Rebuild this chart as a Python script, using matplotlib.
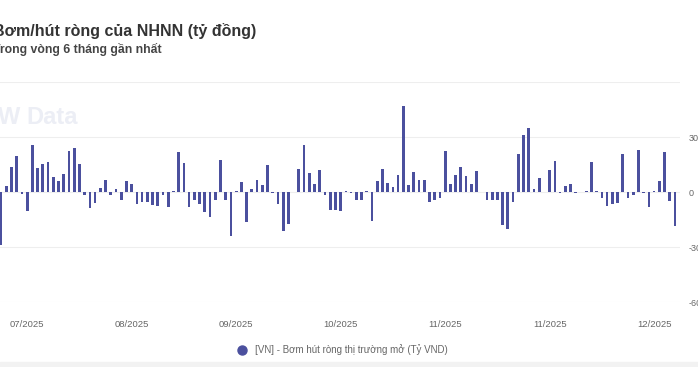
import matplotlib
matplotlib.use('Agg')
import matplotlib.pyplot as plt
from matplotlib.lines import Line2D
from matplotlib.patches import Rectangle

# Bơm/hút ròng theo phiên (tỷ đồng)
values = [-28700, 3100, 13500, 19800, -900, -10500, 25500, 13000, 15200, 16600,
          8300, 5900, 9800, 22600, 24000, 15200, -1500, -8700, -6100, 2200,
          6800, -1900, 1500, -4300, 5900, 4600, -6500, -5500, -5500, -7000,
          -7800, -1900, -8000, 300, 21600, 15700, -8000, -4300, -6800, -11100,
          -13500, -4300, 17600, -4300, -24000, 300, 5500, -16600, 1500, 6800,
          3700, 14800, -500, -6500, -21300, -17200, 0, 12400, 25500, 10500,
          4300, 12000, -1900, -9800, -9800, -10500, 500, -500, -4300, -4300,
          300, -15700, 6100, 12400, 5000, 2800, 9200, 46800, 3700, 11100,
          6800, 6800, -5500, -4300, -3100, 22200, 4300, 9200, 13500, 8700,
          4300, 11700, 0, -4600, -4600, -4600, -18100, -20000, -5200, 20900,
          31100, 34800, 1500, 7400, 0, 12000, 17000, -500, 3300, 4600,
          -500, 0, 300, 16300, 300, -3300, -7400, -6500, -6100, 20700,
          -3100, -1900, 22800, -300, -8300, 300, 6100, 21600, -5000, -18500]

tick_labels = ['07/2025', '08/2025', '09/2025', '10/2025', '11/2025', '11/2025', '12/2025']
y_ticks = [-60000, -30000, 0, 30000, 60000]
y_labels = ['-60,000', '-30,000', '0', '30,000', '']

title = 'Bơm/hút ròng của NHNN (tỷ đồng)'
subtitle = 'Trong vòng 6 tháng gần nhất'
legend_label = '[VN] - Bơm hút ròng thị trường mở (Tỷ VND)'

bar_color = '#4b509e'

plt.rcParams['font.family'] = ['Liberation Sans', 'DejaVu Sans']

W, H = 698, 367
fig = plt.figure(figsize=(W / 100, H / 100), dpi=100)
ax = fig.add_axes([0, 1 - 302 / H, 680 / W, 220 / H])

x = list(range(len(values)))
ax.bar(x, values, width=0.52, color=bar_color, zorder=3)

ax.set_xlim(-0.2, 129.95)
ax.set_ylim(-60000, 60000)

ax.set_xticks(list(range(5, len(values), 20)))
ax.set_xticklabels(tick_labels, fontsize=6.8, color='#666666')
ax.set_yticks(y_ticks)
ax.set_yticklabels(y_labels, fontsize=6.5, color='#666666')
ax.yaxis.tick_right()
ax.tick_params(axis='y', length=0, pad=6)
ax.tick_params(axis='x', length=0, pad=13)
for lab in ax.get_yticklabels():
    lab.set_horizontalalignment('left')

ax.grid(axis='y', color='#eeeeee', linewidth=0.8, zorder=0)
for s in ax.spines.values():
    s.set_visible(False)

# tiêu đề (bị cắt ở mép trái như ảnh gốc)
fig.text(-7 / W, 1 - 31 / H, title, fontsize=11.5, fontweight='bold',
         color='#333333', va='center', ha='left')
fig.text(-7 / W, 1 - 49 / H, subtitle, fontsize=8.8, fontweight='bold',
         color='#444444', va='center', ha='left')

# logo mờ
fig.text(20 / W, 1 - 118 / H, 'W', fontsize=17, fontweight='bold',
         color='#eceef5', va='center', ha='right', zorder=0)
fig.text(26 / W, 1 - 118 / H, 'Data', fontsize=17, fontweight='bold',
         color='#eceef5', va='center', ha='left', zorder=0)

handle = Line2D([], [], marker='o', linestyle='', color=bar_color, markersize=6.5)
fig.legend([handle], [legend_label], loc='center', bbox_to_anchor=(0.487, 1 - 350 / H),
           frameon=False, fontsize=7, labelcolor='#666666', handletextpad=0.3)

# dải xám mờ ở đáy ảnh
fig.patches.append(Rectangle((0, 0), 1, 5 / H, transform=fig.transFigure,
                             color='#f2f2f2', zorder=0))

fig.savefig('out.png', dpi=100)
